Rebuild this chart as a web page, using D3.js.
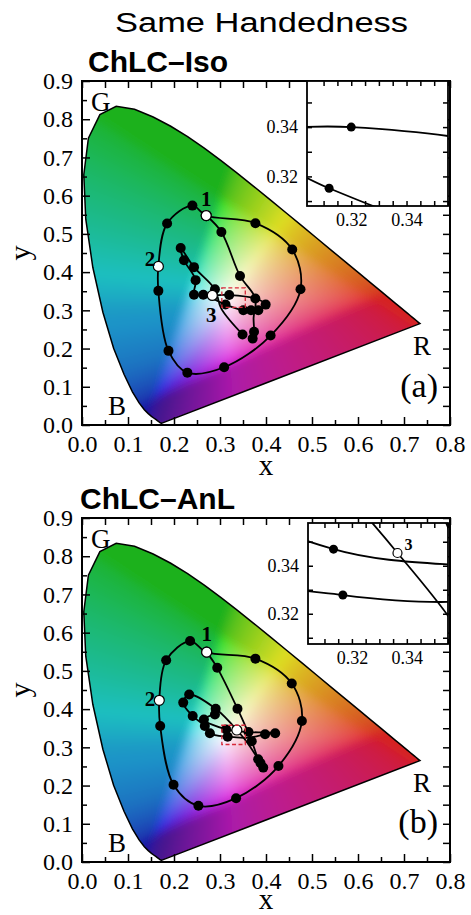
<!DOCTYPE html>
<html>
<head>
<meta charset="utf-8">
<script src="https://cdn.jsdelivr.net/npm/d3@7"></script>
<style>
  body { margin: 0; background: #fff; }
  svg { display: block; }
</style>
</head>
<body>
<div id="viz-container"></div>
<script>
// CIE 1931 spectral locus, 380..700 nm
const locusX = [0.1741,0.1740,0.1738,0.1736,0.1733,0.1730,0.1726,0.1721,0.1714,0.1703,0.1689,0.1669,0.1644,0.1611,0.1566,0.1510,0.1440,0.1355,0.1241,0.1096,0.0913,0.0687,0.0454,0.0235,0.0082,0.0039,0.0139,0.0389,0.0743,0.1142,0.1547,0.1929,0.2296,0.2658,0.3016,0.3373,0.3731,0.4087,0.4441,0.4788,0.5125,0.5448,0.5752,0.6029,0.6270,0.6482,0.6658,0.6801,0.6915,0.7006,0.7079,0.7140,0.7190,0.7230,0.7260,0.7300,0.7320,0.7334,0.7347];
const locusY = [0.0050,0.0050,0.0049,0.0049,0.0048,0.0048,0.0048,0.0048,0.0051,0.0058,0.0069,0.0086,0.0109,0.0138,0.0177,0.0227,0.0297,0.0399,0.0578,0.0868,0.1327,0.2007,0.2950,0.4127,0.5384,0.6548,0.7502,0.8120,0.8338,0.8262,0.8059,0.7816,0.7543,0.7243,0.6923,0.6589,0.6245,0.5896,0.5547,0.5202,0.4866,0.4544,0.4242,0.3965,0.3725,0.3514,0.3340,0.3197,0.3083,0.2993,0.2920,0.2859,0.2809,0.2770,0.2740,0.2700,0.2680,0.2666,0.2653];

const xTicks = [0, 0.1, 0.2, 0.3, 0.4, 0.5, 0.6, 0.7, 0.8];
const yTicks = [0, 0.1, 0.2, 0.3, 0.4, 0.5, 0.6, 0.7, 0.8, 0.9];
const insetXTicks = [0.32, 0.34];
const insetYTicks = [0.32, 0.34];
const insetXDomain = [0.304, 0.355];

const mainTitle = "Same Handedness";

// [x, y, marker]  marker: 1 filled dot, 2 open dot, 0 none
// ChLC-Iso
const isoLoop = [[0.270,0.548,2],[0.377,0.528,1],[0.457,0.459,1],[0.475,0.355,1],[0.410,0.234,1],[0.309,0.151,1],[0.229,0.137,1],[0.188,0.194,1],[0.166,0.351,1],[0.166,0.415,2],[0.185,0.527,1],[0.240,0.574,1]];
const isoPath1 = [[0.270,0.548,2],[0.303,0.505,1],[0.3435,0.390,1],[0.3768,0.331,0],[0.373,0.28,0],[0.374,0.244,1],[0.371,0.226,1]];
const isoPath3 = [[0.2833,0.339,2],[0.320,0.340,1],[0.3768,0.331,1],[0.3993,0.315,1],[0.3833,0.300,1],[0.3674,0.300,1],[0.3507,0.300,1],[0.312,0.3152,1],[0.2637,0.341,1],[0.2435,0.341,1],[0.247,0.379,1],[0.2217,0.431,1],[0.2145,0.463,1],[0.2435,0.413,1],[0.289,0.355,1],[0.3025,0.305,0],[0.349,0.237,1]];

// ChLC-AnL
const anlLoop = [[0.271,0.549,2],[0.377,0.532,1],[0.456,0.467,1],[0.478,0.369,1],[0.427,0.251,1],[0.335,0.167,1],[0.253,0.147,1],[0.199,0.202,1],[0.170,0.356,1],[0.168,0.423,2],[0.183,0.528,1],[0.235,0.578,1]];
const anlPath1 = [[0.271,0.549,2],[0.294,0.508,1],[0.338,0.401,1],[0.369,0.316,1],[0.383,0.269,1],[0.388,0.259,1],[0.394,0.247,1]];
const anlPath3 = [[0.3366,0.3453,2],[0.2906,0.401,1],[0.233,0.438,1],[0.220,0.417,1],[0.2406,0.382,1],[0.267,0.356,1],[0.278,0.337,1],[0.3167,0.3278,1],[0.365,0.3255,0],[0.398,0.334,1],[0.420,0.337,1],[0.398,0.339,0],[0.362,0.340,1],[0.3133,0.3469,1],[0.265,0.373,1],[0.289,0.386,1]];
const anlPath3b = [[0.3366,0.3453,0],[0.355,0.3192,0],[0.372,0.290,0],[0.383,0.269,0]];

const W = 471, H = 915;
const serif = "'Liberation Serif', 'Times New Roman', serif";
const sans = "'Liberation Sans', Arial, sans-serif";

let svg = d3.select("#viz-container")
  .append("svg")
  .attr("width", W)
  .attr("height", H);

let blur = svg.append("defs").append("filter").attr("id", "soft")
  .attr("x", "-5%").attr("y", "-5%").attr("width", "110%").attr("height", "110%");
blur.append("feGaussianBlur").attr("stdDeviation", 4);

svg.append("text")
  .attr("x", 261.5)
  .attr("y", 32)
  .attr("text-anchor", "middle")
  .attr("font-family", sans)
  .attr("font-size", 27)
  .attr("textLength", 293)
  .attr("lengthAdjust", "spacingAndGlyphs")
  .text(mainTitle);

// how much the saturated colours are dimmed, by hue
let dimByHue = d3.scaleLinear()
  .domain([0, 40, 60, 90, 120, 160, 190, 210, 240, 265, 290, 320, 360])
  .range([0.02, 0.01, 0.0, 0.05, 0.10, 0.08, 0.05, 0.07, 0.13, 0.18, 0.14, 0.07, 0.02]);
// push the cyans toward sky blue
let hueShift = d3.scaleLinear()
  .domain([0, 140, 165, 185, 205, 240, 360])
  .range([0, 140, 172, 196, 208, 240, 360]);

// chromaticity -> sRGB
function chroma(cx, cy) {
  cy = Math.max(cy, 0.001);
  let X = cx / cy, Y = 1, Z = Math.max(1 - cx - cy, 0) / cy;
  let r = 3.2406 * X - 1.5372 * Y - 0.4986 * Z;
  let g = -0.9689 * X + 1.8758 * Y + 0.0415 * Z;
  let b = 0.0557 * X - 0.2040 * Y + 1.0570 * Z;
  r = Math.max(r, 0); g = Math.max(g, 0); b = Math.max(b, 0);
  let m = Math.max(r, g, b, 1e-6);
  let c = [r / m, g / m, b / m].map(v => v <= 0.0031308 ? 12.92 * v : 1.055 * Math.pow(v, 1 / 2.4) - 0.055);
  let hsl = d3.hsl(d3.rgb(c[0] * 255, c[1] * 255, c[2] * 255));
  let hue = isNaN(hsl.h) ? 0 : hsl.h;
  let s = isNaN(hsl.s) ? 0 : hsl.s;
  let vivid = 1 - Math.abs(2 * hsl.l - 1);
  hsl.h = hueShift(hue);
  hsl.s = s * 0.74;
  hsl.l = hsl.l - dimByHue(hue) * vivid * s;
  let o = d3.rgb(hsl);
  return [Math.round(o.r), Math.round(o.g), Math.round(o.b)];
}

function gamutImage(x, y, w, h, left, top) {
  let canvas = document.createElement("canvas");
  canvas.width = w; canvas.height = h;
  let ctx = canvas.getContext("2d");
  let img = ctx.createImageData(w, h);
  for (let j = 0; j < h; j++) {
    for (let i = 0; i < w; i++) {
      let c = chroma(x.invert(left + i + 0.5), y.invert(top + j + 0.5));
      let k = (j * w + i) * 4;
      img.data[k] = c[0]; img.data[k + 1] = c[1]; img.data[k + 2] = c[2]; img.data[k + 3] = 255;
    }
  }
  ctx.putImageData(img, 0, 0);
  return canvas.toDataURL();
}

function styleAxis(g) {
  g.select(".domain").remove();
  g.selectAll(".tick line").attr("stroke", "#000").attr("stroke-width", 1.5);
  g.selectAll("text").attr("font-family", serif).attr("fill", "#000");
}

function drawTracks(g, x, y, paths, loop) {
  let line = d3.line().x(d => x(d[0])).y(d => y(d[1])).curve(d3.curveCatmullRom.alpha(0.5));
  let closed = d3.line().x(d => x(d[0])).y(d => y(d[1])).curve(d3.curveCatmullRomClosed.alpha(0.5));
  g.append("path").attr("d", closed(loop)).attr("fill", "none").attr("stroke", "#000").attr("stroke-width", 1.8);
  paths.forEach(p => {
    g.append("path").attr("d", line(p)).attr("fill", "none").attr("stroke", "#000").attr("stroke-width", 1.8);
  });
  let pts = [loop].concat(paths).flat();
  g.selectAll(".dot").data(pts.filter(d => d[2] == 1)).enter()
    .append("circle").attr("class", "dot")
    .attr("cx", d => x(d[0])).attr("cy", d => y(d[1])).attr("r", 5).attr("fill", "#000");
  g.selectAll(".odot").data(pts.filter(d => d[2] == 2)).enter()
    .append("circle").attr("class", "odot")
    .attr("cx", d => x(d[0])).attr("cy", d => y(d[1])).attr("r", 5)
    .attr("fill", "#fff").attr("stroke", "#000").attr("stroke-width", 1.2);
}

function drawPanel(cfg) {
  let top = cfg.top, bottom = top + 344;
  let x = d3.scaleLinear().domain([0, 0.8]).range([82, 450]);
  let y = d3.scaleLinear().domain([0, 0.9]).range([bottom, top]);
  let panel = svg.append("g").attr("class", "panel-" + cfg.id);

  // gamut fill, computed a little beyond the frame, softened, then clipped to the locus
  let pad = 20;
  let locus = locusX.map((v, i) => [v, locusY[i]]);
  let locusLine = d3.line().x(d => x(d[0])).y(d => y(d[1]));
  panel.append("clipPath").attr("id", "locus-" + cfg.id)
    .append("path").attr("d", locusLine(locus) + "Z");
  panel.append("g").attr("clip-path", "url(#locus-" + cfg.id + ")")
    .append("image")
    .attr("x", 82 - pad).attr("y", top - pad).attr("width", 368 + 2 * pad).attr("height", 344 + 2 * pad)
    .attr("preserveAspectRatio", "none")
    .attr("href", gamutImage(x, y, 368 + 2 * pad, 344 + 2 * pad, 82 - pad, top - pad))
    .attr("filter", "url(#soft)");
  panel.append("path").attr("d", locusLine(locus) + "Z")
    .attr("fill", "none").attr("stroke", "#000").attr("stroke-width", 1.5);

  // axes, ticks inward on all four sides
  let minorX = d3.range(0.05, 0.8, 0.1);
  let minorY = d3.range(0.05, 0.9, 0.1);
  panel.append("g").attr("transform", "translate(0," + bottom + ")")
    .call(d3.axisBottom(x).tickValues(xTicks).tickSize(-8).tickPadding(10).tickFormat(d3.format(".1f")))
    .call(styleAxis).selectAll("text").attr("font-size", 24);
  panel.append("g").attr("transform", "translate(0," + bottom + ")")
    .call(d3.axisBottom(x).tickValues(minorX).tickSize(-5).tickFormat("")).call(styleAxis);
  panel.append("g").attr("transform", "translate(0," + top + ")")
    .call(d3.axisTop(x).tickValues(xTicks.concat(minorX)).tickSize(-7).tickFormat("")).call(styleAxis);
  panel.append("g").attr("transform", "translate(82,0)")
    .call(d3.axisLeft(y).tickValues(yTicks).tickSize(-8).tickPadding(9).tickFormat(d3.format(".1f")))
    .call(styleAxis).selectAll("text").attr("font-size", 24);
  panel.append("g").attr("transform", "translate(82,0)")
    .call(d3.axisLeft(y).tickValues(minorY).tickSize(-5).tickFormat("")).call(styleAxis);
  panel.append("g").attr("transform", "translate(450,0)")
    .call(d3.axisRight(y).tickValues(yTicks.concat(minorY)).tickSize(-7).tickFormat("")).call(styleAxis);
  panel.append("rect").attr("x", 82).attr("y", top).attr("width", 368).attr("height", 344)
    .attr("fill", "none").attr("stroke", "#000").attr("stroke-width", 2);

  // axis titles
  panel.append("text").attr("x", 266).attr("y", bottom + cfg.xLabelDown).attr("text-anchor", "middle")
    .attr("font-family", serif).attr("font-size", 29).text("x");
  panel.append("text").attr("transform", "translate(30," + (top + 172) + ") rotate(-90)")
    .attr("text-anchor", "middle").attr("font-family", serif).attr("font-size", 30).text("y");

  // panel title
  panel.append("text").attr("x", cfg.titleX).attr("y", top - 9)
    .attr("font-family", sans).attr("font-weight", "bold").attr("font-size", 30).text(cfg.title);

  // corner letters
  let letters = panel.append("g").attr("font-family", serif).attr("font-size", 27);
  letters.append("text").attr("x", 91).attr("y", top + 30).text("G");
  letters.append("text").attr("x", 108).attr("y", bottom - 10).text("B");
  letters.append("text").attr("x", 413).attr("y", bottom - 70).text("R");
  panel.append("text").attr("x", 438).attr("y", bottom - cfg.tagUp).attr("text-anchor", "end")
    .attr("font-family", serif).attr("font-size", 34).text(cfg.tag);

  // trajectories
  drawTracks(panel.append("g"), x, y, cfg.paths, cfg.loop);

  // red box marking inset region
  let ins = cfg.inset;
  panel.append("rect")
    .attr("x", x(insetXDomain[0])).attr("y", y(ins.yDomain[1]))
    .attr("width", x(insetXDomain[1]) - x(insetXDomain[0]))
    .attr("height", y(ins.yDomain[0]) - y(ins.yDomain[1]))
    .attr("fill", "none").attr("stroke", "#d8283a").attr("stroke-width", 1.3)
    .attr("stroke-dasharray", "4,2.5");

  // trajectory numbers
  let nums = panel.append("g").attr("font-family", serif).attr("font-weight", "bold").attr("font-size", 21);
  cfg.nums.forEach(n => {
    nums.append("text").attr("x", x(n.p[0]) + n.dx).attr("y", y(n.p[1]) + n.dy)
      .attr("text-anchor", n.anchor).text(n.t);
  });

  // inset
  let ix = d3.scaleLinear().domain(insetXDomain).range([ins.x0, ins.x1]);
  let iy = d3.scaleLinear().domain(ins.yDomain).range([ins.y1, ins.y0]);
  let inset = panel.append("g").attr("class", "inset");
  inset.append("rect").attr("x", ins.x0).attr("y", ins.y0)
    .attr("width", ins.x1 - ins.x0).attr("height", ins.y1 - ins.y0).attr("fill", "#fff");
  inset.append("clipPath").attr("id", "inset-" + cfg.id)
    .append("rect").attr("x", ins.x0).attr("y", ins.y0)
    .attr("width", ins.x1 - ins.x0).attr("height", ins.y1 - ins.y0);
  let inner = inset.append("g").attr("clip-path", "url(#inset-" + cfg.id + ")");
  drawTracks(inner, ix, iy, cfg.paths, cfg.loop);
  inner.selectAll("circle").attr("r", 4.5);
  if (ins.num) {
    inset.append("text").attr("x", ix(ins.num.p[0]) + 7).attr("y", iy(ins.num.p[1]) - 3)
      .attr("font-family", serif).attr("font-weight", "bold").attr("font-size", 16).text(ins.num.t);
  }
  let ixMinor = d3.range(0.31, 0.3551, 0.005);
  let iyMinor = d3.range(0.31, 0.3551, 0.01);
  inset.append("g").attr("transform", "translate(0," + ins.y1 + ")")
    .call(d3.axisBottom(ix).tickValues(ixMinor).tickSize(-5).tickFormat("")).call(styleAxis);
  inset.append("g").attr("transform", "translate(0," + ins.y1 + ")")
    .call(d3.axisBottom(ix).tickValues(insetXTicks).tickSize(0).tickPadding(7).tickFormat(d3.format(".2f")))
    .call(styleAxis).selectAll("text").attr("font-size", 18);
  inset.append("g").attr("transform", "translate(0," + ins.y0 + ")")
    .call(d3.axisTop(ix).tickValues(ixMinor).tickSize(-5).tickFormat("")).call(styleAxis);
  inset.append("g").attr("transform", "translate(" + ins.x0 + ",0)")
    .call(d3.axisLeft(iy).tickValues(iyMinor).tickSize(-5).tickFormat("")).call(styleAxis);
  inset.append("g").attr("transform", "translate(" + ins.x0 + ",0)")
    .call(d3.axisLeft(iy).tickValues(insetYTicks).tickSize(0).tickPadding(9).tickFormat(d3.format(".2f")))
    .call(styleAxis).selectAll("text").attr("font-size", 18);
  inset.append("g").attr("transform", "translate(" + ins.x1 + ",0)")
    .call(d3.axisRight(iy).tickValues(iyMinor).tickSize(-5).tickFormat("")).call(styleAxis);
  inset.append("rect").attr("x", ins.x0).attr("y", ins.y0)
    .attr("width", ins.x1 - ins.x0).attr("height", ins.y1 - ins.y0)
    .attr("fill", "none").attr("stroke", "#000").attr("stroke-width", 1.8);
}

drawPanel({
  id: "a", top: 81, title: "ChLC\u2013Iso", titleX: 88, tag: "(a)", tagUp: 28, xLabelDown: 50,
  loop: isoLoop, paths: [isoPath1, isoPath3],
  nums: [
    { t: "1", p: isoLoop[0], dx: 0, dy: -10, anchor: "middle" },
    { t: "2", p: isoLoop[9], dx: -3, dy: 0, anchor: "end" },
    { t: "3", p: isoPath3[0], dx: -1, dy: 27, anchor: "middle" }
  ],
  inset: { x0: 307, x1: 448, y0: 81, y1: 206, yDomain: [0.308, 0.3587] }
});

drawPanel({
  id: "b", top: 518, title: "ChLC\u2013AnL", titleX: 80, tag: "(b)", tagUp: 29, xLabelDown: 47,
  loop: anlLoop, paths: [anlPath1, anlPath3, anlPath3b],
  nums: [
    { t: "1", p: anlLoop[0], dx: 0, dy: -11, anchor: "middle" },
    { t: "2", p: anlLoop[9], dx: -4, dy: 6, anchor: "end" }
  ],
  inset: { x0: 308, x1: 448, y0: 523, y1: 644, yDomain: [0.3074, 0.3578],
           num: { t: "3", p: anlPath3[0] } }
});
</script>
</body>
</html>
